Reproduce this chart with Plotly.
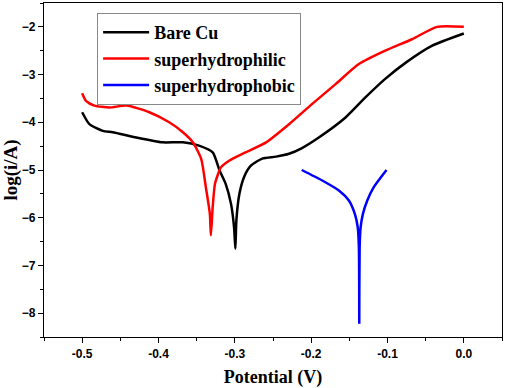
import plotly.graph_objects as go

# Bare Cu
bare_x = [-0.500, -0.4905, -0.473, -0.460, -0.429, -0.395, -0.368, -0.347, -0.329, -0.320, -0.312, -0.305, -0.301, -0.2993,
          -0.298, -0.294, -0.288, -0.279, -0.264, -0.246, -0.229, -0.212, -0.190, -0.155, -0.129, -0.103, -0.076, -0.042, 0.000]
bare_y = [-3.79, -4.04, -4.18, -4.21, -4.32, -4.42, -4.42, -4.49, -4.63, -5.01, -5.29, -5.71, -6.20, -6.65,
          -6.06, -5.50, -5.15, -4.91, -4.76, -4.72, -4.66, -4.54, -4.32, -3.90, -3.48, -3.09, -2.75, -2.40, -2.14]

# superhydrophilic
phil_x = [-0.500, -0.495, -0.484, -0.464, -0.442, -0.412, -0.386, -0.368, -0.355, -0.344, -0.338, -0.3327, -0.3314,
          -0.329, -0.326, -0.318, -0.307, -0.286, -0.259, -0.229, -0.199, -0.168, -0.1375, -0.103, -0.068, -0.035, 0.000]
phil_y = [-3.39, -3.55, -3.65, -3.69, -3.65, -3.79, -4.00, -4.21, -4.42, -4.77, -5.36, -5.92, -6.37,
          -5.78, -5.29, -4.94, -4.80, -4.63, -4.42, -4.04, -3.62, -3.20, -2.78, -2.50, -2.26, -2.00, -2.00]

# superhydrophobic
phob_x = [-0.2124, -0.1855, -0.1637, -0.1506, -0.1428, -0.1390, -0.1375, -0.1370,
          -0.1370, -0.1365, -0.1352, -0.1322, -0.1265, -0.1180, -0.1013]
phob_y = [-5.00, -5.22, -5.43, -5.64, -5.92, -6.20, -6.62, -8.22,
          -8.22, -6.62, -6.20, -5.92, -5.64, -5.36, -5.00]

x_ticks = [-0.5, -0.4, -0.3, -0.2, -0.1, 0.0]
x_tick_text = ["-0.5", "-0.4", "-0.3", "-0.2", "-0.1", "0.0"]
y_ticks = [-8, -7, -6, -5, -4, -3, -2]

fig = go.Figure()
for name, xs, ys, col in [("Bare Cu", bare_x, bare_y, "#000000"),
                          ("superhydrophilic", phil_x, phil_y, "#ff0000"),
                          ("superhydrophobic", phob_x, phob_y, "#0000ff")]:
    fig.add_trace(go.Scatter(x=xs, y=ys, mode="lines", name=name,
                             line=dict(color=col, width=2.5, shape="spline", smoothing=0.6)))

axis_common = dict(showline=True, linecolor="black", linewidth=1.2, mirror=True,
                   ticks="outside", ticklen=5, tickwidth=1.2, tickcolor="black",
                   showgrid=False, zeroline=False, automargin=False,
                   tickfont=dict(family="Liberation Sans, Arial", size=12, color="black", weight="bold"),
                   minor=dict(ticks="outside", ticklen=3, tickwidth=1.2, tickcolor="black"))

fig.update_xaxes(range=[-0.55, 0.05], tickvals=x_ticks, ticktext=x_tick_text,
                 title=dict(text="Potential (V)", standoff=10,
                            font=dict(family="Liberation Serif, Times New Roman", size=18, color="black", weight="bold")),
                 **axis_common)
fig.update_xaxes(minor=dict(dtick=0.05, tick0=0))
fig.update_yaxes(range=[-8.5, -1.5], tickvals=y_ticks,
                 title=dict(text="log(i/A)", standoff=4,
                            font=dict(family="Liberation Serif, Times New Roman", size=19, color="black", weight="bold")),
                 **axis_common)
fig.update_yaxes(minor=dict(dtick=0.5, tick0=0))

fig.update_layout(
    width=505, height=388,
    margin=dict(l=44, r=3, t=3, b=51),
    plot_bgcolor="white", paper_bgcolor="white",
    showlegend=True,
    legend=dict(x=0.116, y=0.97, xanchor="left", yanchor="top",
                bgcolor="white", bordercolor="#888888", borderwidth=1,
                font=dict(family="Liberation Serif, Times New Roman", size=18, color="black", weight="bold"),
                tracegroupgap=0, itemwidth=46),
)

fig.write_html("out.html", config={"displayModeBar": False},
               post_script="document.body.style.margin='0';document.body.style.overflow='hidden';")
